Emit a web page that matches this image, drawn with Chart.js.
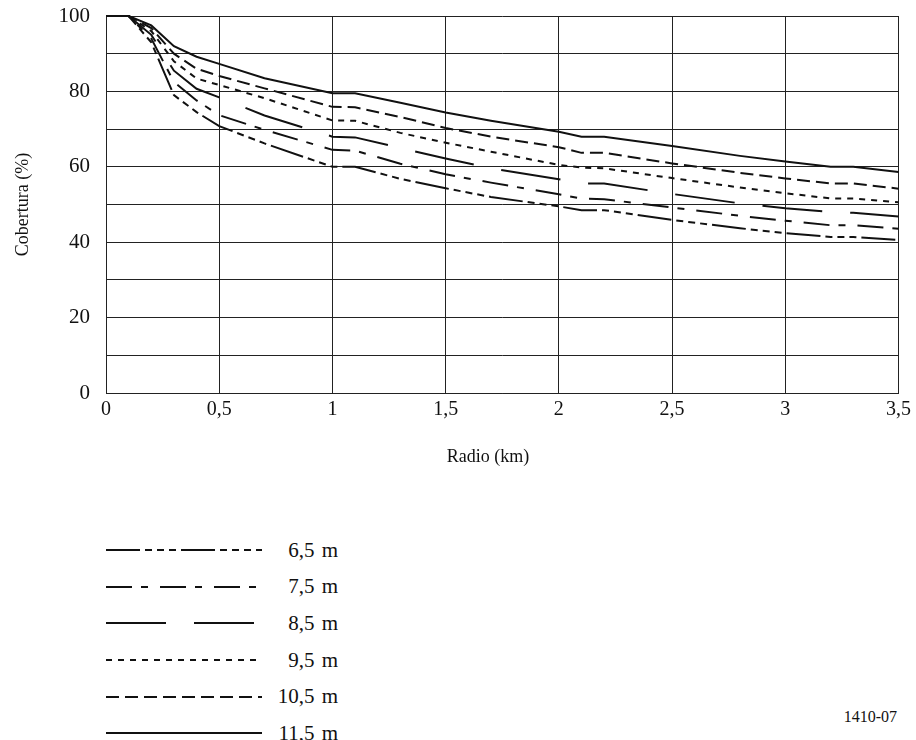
<!DOCTYPE html>
<html>
<head>
<meta charset="utf-8">
<script src="https://cdn.jsdelivr.net/npm/chart.js@4.4.1/dist/chart.umd.min.js"></script>
<style>
  body { margin: 0; background: #fff; font-family: 'Liberation Serif', 'Times New Roman', serif; color: #111; }
  .page { position: relative; width: 916px; height: 740px; overflow: hidden; }
  .chart-box { position: absolute; left: 0; top: 0; width: 916px; height: 480px; }
  .x-title { position: absolute; left: 388px; width: 200px; top: 445px; text-align: center; font-size: 18px; line-height: 22px; }
  .legend { position: absolute; left: 106px; top: 532px; }
  .legend .row { display: flex; align-items: center; height: 36.6px; }
  .legend svg { display: block; }
  .legend .lbl { width: 76px; text-align: right; font-size: 21px; word-spacing: 2px; }
  .ref { position: absolute; right: 19px; top: 708px; font-size: 16px; }
</style>
</head>
<body>
<div class="page">
  <div class="chart-box"><canvas id="c"></canvas></div>
  <div class="x-title">Radio (km)</div>
  <div class="legend" id="legend"></div>
  <div class="ref">1410-07</div>
</div>
<script>
// radio (km) de cada punto
const radios = [0, 0.1, 0.2, 0.3, 0.4, 0.5, 0.7, 1.0, 1.1, 1.3, 1.5, 1.7, 2.0, 2.1, 2.2, 2.5, 2.8, 3.0, 3.2, 3.3, 3.5];

// cobertura (%) por altura de antena
const cob65  = [100, 100, 93,   79,   74.5, 70.8, 66.2, 60,   60,   56.8, 54.3, 52,   49.5, 48.5, 48.5, 45.9, 43.7, 42.4, 41.4, 41.4, 40.6];
const cob75  = [100, 100, 94,   82.5, 77.6, 73.7, 69.8, 64.5, 64.3, 60.8, 58,   55.8, 52.7, 51.6, 51.4, 49.2, 47,   45.7, 44.5, 44.5, 43.6];
const cob85  = [100, 100, 95,   85.5, 80.7, 78.4, 73.6, 68,   67.8, 65,   62.2, 59.6, 56.7, 55.6, 55.6, 52.8, 50.3, 49,   48,   47.8, 46.8];
const cob95  = [100, 100, 96,   88,   83.4, 81.7, 78.2, 72.3, 72.2, 69,   66.4, 64,   60.5, 59.8, 59.6, 57,   54.5, 53,   51.6, 51.6, 50.6];
const cob105 = [100, 100, 96.8, 90,   86,   84.1, 80.8, 75.9, 75.8, 73.2, 70.3, 68,   65.2, 63.7, 63.7, 60.9, 58.4, 56.9, 55.6, 55.6, 54.2];
const cob115 = [100, 100, 97.5, 92,   89.2, 87.3, 83.5, 79.5, 79.5, 77,   74.4, 72.2, 69.3, 68,   68,   65.5, 62.9, 61.4, 60,   60,   58.6];

const labels = ['6,5 m', '7,5 m', '8,5 m', '9,5 m', '10,5 m', '11,5 m'];
const series = [cob65, cob75, cob85, cob95, cob105, cob115];
const dashes = [[34, 5, 7, 5, 7, 5, 7, 5], [26, 9, 7, 12], [60, 28], [6, 6], [13, 6], []];

const FONT = "'Liberation Serif', 'Times New Roman', serif";
const fmt = v => String(v).replace('.', ',');

new Chart(document.getElementById('c'), {
  type: 'line',
  data: {
    datasets: series.map((s, i) => ({
      label: labels[i],
      data: s.map((v, k) => ({ x: radios[k], y: v })),
      borderColor: '#111',
      borderWidth: 2,
      borderDash: dashes[i],
      pointRadius: 0,
      tension: 0,
      fill: false,
      clip: 4
    }))
  },
  options: {
    responsive: true,
    maintainAspectRatio: false,
    animation: false,
    layout: { padding: { left: 0, right: 14, top: 16, bottom: 0 } },
    plugins: { legend: { display: false }, tooltip: { enabled: false } },
    scales: {
      x: {
        type: 'linear', min: 0, max: 3.5,
        afterFit: s => { s.height = 87; },
        grid: { color: '#222', lineWidth: 1, drawTicks: false },
        border: { color: '#222', width: 1 },
        ticks: { stepSize: 0.5, padding: 5, color: '#111', font: { family: FONT, size: 20 }, callback: v => fmt(v) }
      },
      y: {
        min: 0, max: 100,
        afterFit: s => { s.width = 106; s.paddingTop = 0; s.paddingBottom = 0; },
        grid: { color: '#222', lineWidth: 1, drawTicks: false },
        border: { color: '#222', width: 1 },
        ticks: { stepSize: 10, padding: 16, color: '#111', font: { family: FONT, size: 21 }, callback: v => v % 20 === 0 ? v : '' },
        title: { display: true, text: 'Cobertura (%)', color: '#111', font: { family: FONT, size: 18 }, padding: { top: 12, bottom: 0 } }
      }
    }
  }
});

// leyenda
const legendEl = document.getElementById('legend');
legendEl.innerHTML = labels.map((l, i) => `
  <div class="row">
    <svg width="156" height="6"><line x1="0" y1="3" x2="156" y2="3" stroke="#111" stroke-width="2" stroke-dasharray="${dashes[i].join(' ') || 'none'}"/></svg>
    <span class="lbl">${l}</span>
  </div>`).join('');
</script>
</body>
</html>
